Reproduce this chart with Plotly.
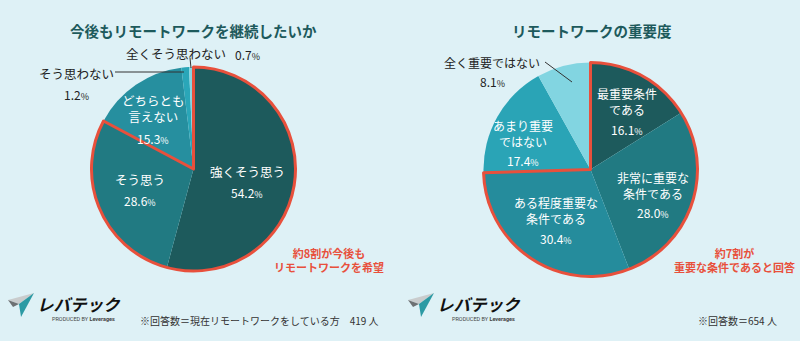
import plotly.graph_objects as go

W, H = 800, 341
FONT = "Noto Sans CJK JP"

# ---- data ----
left_title = "今後もリモートワークを継続したいか"
left_labels = ["強くそう思う", "そう思う", "どちらとも言えない", "そう思わない", "全くそう思わない"]
left_display = ["強くそう思う", "そう思う", "どちらとも<br>言えない", "そう思わない", "全くそう思わない"]
left_values = [54.2, 28.6, 15.3, 1.2, 0.7]
left_colors = ["#1d5a5c", "#217a82", "#268f9f", "#2aa6b8", "#84d5e1"]
left_note = "約8割が今後も<br>リモートワークを希望"
left_footer = "※回答数＝現在リモートワークをしている方　419 人"

right_title = "リモートワークの重要度"
right_labels = ["最重要条件である", "非常に重要な条件である", "ある程度重要な条件である", "あまり重要ではない", "全く重要ではない"]
right_display = ["最重要条件<br>である", "非常に重要な<br>条件である", "ある程度重要な<br>条件である", "あまり重要<br>ではない", "全く重要ではない"]
right_values = [16.1, 28.0, 30.4, 17.4, 8.1]
right_colors = ["#1d5a5c", "#217a82", "#258c9c", "#2aa4b6", "#82d5e1"]
right_note = "約7割が<br>重要な条件であると回答"
right_footer = "※回答数＝654 人"

RED = "#e8503c"
BG = "#def1f6"


def px(x):
    return x / W


def py(y):
    return 1 - y / H


def dom(cx, cy, r):
    return dict(x=[px(cx - r), px(cx + r)], y=[py(cy + r), py(cy - r)])


def pct(v, size=12, small=9):
    return f"{v:.1f}<span style='font-size:{small}px'>%</span>"


fig = go.Figure()

LD = dom(193.5, 169, 102)
RD = dom(590.5, 169.5, 107)

for vals, labs, cols, d, ngroup in [
    (left_values, left_labels, left_colors, LD, 2),
    (right_values, right_labels, right_colors, RD, 3),
]:
    fig.add_trace(go.Pie(values=vals, labels=labs, sort=False, direction="clockwise",
                         rotation=0, textinfo="none", hoverinfo="label+value",
                         marker=dict(colors=cols, line=dict(width=0)),
                         domain=d, showlegend=False))
    grp = [round(sum(vals[:ngroup]), 1), round(sum(vals[ngroup:]), 1)]
    fig.add_trace(go.Pie(values=grp, labels=["g1", "g2"], sort=False, direction="clockwise",
                         rotation=0, textinfo="none", hoverinfo="skip",
                         marker=dict(colors=["rgba(0,0,0,0)", "rgba(0,0,0,0)"],
                                     line=dict(color=[RED, "rgba(0,0,0,0)"], width=[3, 0])),
                         domain=d, showlegend=False))

ann = []


def text(x, y, t, size=12, color="white", bold=False, xanchor="center", family=FONT):
    ann.append(dict(x=px(x), y=py(y), xref="paper", yref="paper", text=(f"<b>{t}</b>" if bold else t),
                    showarrow=False, xanchor=xanchor, yanchor="middle",
                    font=dict(family=family, size=size, color=color)))


# titles
text(193, 30, left_title, size=14.5, color="#1d5a5c", bold=True)
text(592, 30, right_title, size=14.5, color="#1d5a5c", bold=True)

# left inner labels
text(247, 171, left_display[0], 12.5)
text(247, 192, pct(left_values[0]), 12)
text(140, 179, left_display[1], 12.5)
text(140, 200, pct(left_values[1]), 12)
text(153, 109, left_display[2], 12.5)
text(153, 138, pct(left_values[2]), 12)
# left outer labels
text(76, 73, left_display[3], 12.5, color="#222")
text(76, 95, pct(left_values[3]), 12, color="#222")
text(176, 54, left_display[4], 12.5, color="#222")
text(247, 55, pct(left_values[4]), 12, color="#222")

# right inner labels
text(627, 102, right_display[0], 12)
text(627, 129, pct(right_values[0]), 12)
text(653, 185, right_display[1], 12)
text(653, 212, pct(right_values[1]), 12)
text(556, 210, right_display[2], 12)
text(556, 238, pct(right_values[2]), 12)
text(523, 133, right_display[3], 12)
text(523, 160, pct(right_values[3]), 12)
# right outer
text(492, 62, right_display[4], 12, color="#222")
text(492, 81, pct(right_values[4]), 12, color="#222")

# red notes
text(272, 260, left_note, 11, color=RED, bold=True, xanchor="left")
text(672, 260, right_note, 11, color=RED, bold=True, xanchor="left")

# footers
text(259, 320, left_footer, 10, color="#333")
text(737, 320, right_footer, 10, color="#333")

shapes = [
    dict(type="line", xref="paper", yref="paper", x0=px(115), y0=py(72), x1=px(184), y1=py(72),
         line=dict(color="#333", width=1)),
    dict(type="line", xref="paper", yref="paper", x0=px(190), y0=py(58), x1=px(191), y1=py(68),
         line=dict(color="#333", width=1)),
    dict(type="line", xref="paper", yref="paper", x0=px(545), y0=py(62), x1=px(572), y1=py(82),
         line=dict(color="#333", width=1)),
]


def path(pts, color):
    d = "M " + " L ".join(f"{px(a)},{py(b)}" for a, b in pts) + " Z"
    return dict(type="path", xref="paper", yref="paper", path=d, fillcolor=color, line=dict(width=0))


# logos
for ox in (0, 400):
    shapes.append(path([(8 + ox, 300), (34 + ox, 293), (19 + ox, 304)], "#c9cccd"))
    shapes.append(path([(8 + ox, 300), (19 + ox, 304), (13 + ox, 307)], "#6e7173"))
    shapes.append(path([(19 + ox, 304), (34 + ox, 293), (21 + ox, 317)], "#2b9aa4"))
    ann.append(dict(x=px(35 + ox), y=py(304), xref="paper", yref="paper",
                    text="<b><i>レバテック</i></b>", showarrow=False, xanchor="left", yanchor="middle",
                    font=dict(family=FONT, size=16.5, color="#111")))
    ann.append(dict(x=px(117 + ox), y=py(318.5), xref="paper", yref="paper",
                    text="PRODUCED BY <b>Leverages</b>", showarrow=False, xanchor="right", yanchor="middle",
                    font=dict(family="Roboto", size=5.5, color="#444")))

fig.update_layout(width=W, height=H, margin=dict(l=0, r=0, t=0, b=0),
                  paper_bgcolor=BG, plot_bgcolor=BG, annotations=ann, shapes=shapes,
                  showlegend=False)

fig.write_html("out.html")
